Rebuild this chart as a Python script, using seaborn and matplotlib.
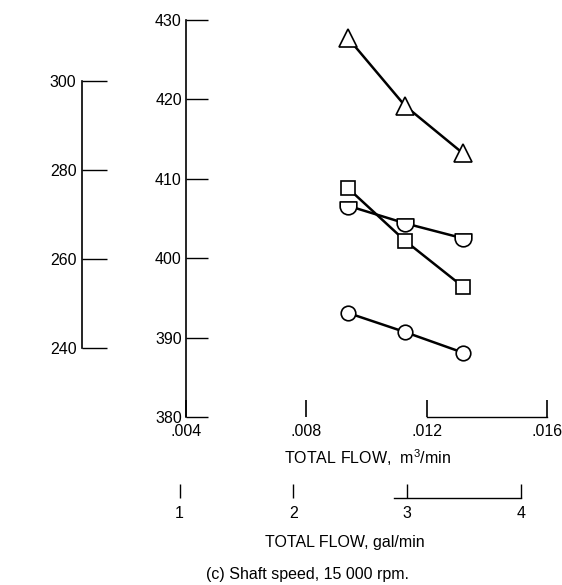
import matplotlib
matplotlib.use("Agg")
import matplotlib.pyplot as plt
import numpy as np
import pandas as pd
import seaborn as sns
from matplotlib.path import Path

# ---- data ----
flow_m3 = [0.00939, 0.01128, 0.01321]
triangle_vals = [427.7, 419.2, 413.2]
square_vals = [408.8, 402.2, 396.4]
halfcircle_vals = [406.6, 404.4, 402.5]
circle_vals = [393.1, 390.7, 388.1]

main_yticks = [380, 390, 400, 410, 420, 430]
left_yticks = [240, 260, 280, 300]
m3_ticks = [0.004, 0.008, 0.012, 0.016]
m3_labels = [".004", ".008", ".012", ".016"]
gal_ticks = [1, 2, 3, 4]
gal_labels = ["1", "2", "3", "4"]

GAL_M3 = 0.0037854

sns.set_style("ticks")
plt.rcParams['font.family'] = ['Liberation Sans', 'DejaVu Sans']
plt.rcParams['mathtext.fontset'] = 'custom'
plt.rcParams['mathtext.rm'] = 'Liberation Sans'
plt.rcParams['text.color'] = 'black'
plt.rcParams['xtick.color'] = 'black'
plt.rcParams['ytick.color'] = 'black'
plt.rcParams['xtick.labelcolor'] = 'black'
plt.rcParams['ytick.labelcolor'] = 'black'
plt.rcParams['axes.edgecolor'] = 'black'

FS = 11.5
W, H = 562, 585
fig = plt.figure(figsize=(W / 100, H / 100), dpi=100)

# main axes: x 0.004..0.016 -> px 186..547 ; y 380..430 -> px 417..20
X0, X1 = 186, 547
XMIN, XMAX = 0.004, 0.016
PXU = (X1 - X0) / (XMAX - XMIN)
ax = fig.add_axes([X0 / W, 1 - 417 / H, (X1 - X0) / W, 397 / H])
ax.patch.set_alpha(0)

# half-circle marker (flat top, round bottom)
arc = Path.arc(180, 360)
verts = list(arc.vertices) + [(1.0, 0.55), (-1.0, 0.55), (-1.0, 0.0)]
codes = list(arc.codes) + [Path.LINETO, Path.LINETO, Path.CLOSEPOLY]
half_marker = Path(verts, codes)

series = [
    (triangle_vals, "^", 12.5),
    (square_vals, "s", 10),
    (halfcircle_vals, half_marker, 12),
    (circle_vals, "o", 10.5),
]
for vals, mk, ms in series:
    df = pd.DataFrame({"flow": flow_m3, "val": vals})
    sns.lineplot(data=df, x="flow", y="val", ax=ax, color="black", lw=1.8,
                 marker=mk, markersize=ms, markerfacecolor="white",
                 markeredgecolor="black", markeredgewidth=1.2, zorder=3)

ax.set_xlim(XMIN, XMAX)
ax.set_ylim(380, 430)
for s in ["top", "right"]:
    ax.spines[s].set_visible(False)
ax.spines["left"].set_linewidth(1.2)
ax.spines["bottom"].set_linewidth(1.0)
ax.spines["bottom"].set_bounds(0.012, 0.016)
ax.set_yticks(main_yticks)
ax.set_yticklabels([str(t) for t in main_yticks])
ax.tick_params(axis="y", direction="in", length=16, width=1.0, pad=3,
               labelsize=FS)
ax.set_xticks(m3_ticks)
ax.set_xticklabels(m3_labels)
ax.tick_params(axis="x", direction="in", length=12, width=1.2, pad=5,
               labelsize=FS)
ax.set_xlabel("")
ax.set_ylabel("")
fig.text(367 / W, 1 - 458 / H, "TOTAL FLOW,  m$^3$/min", ha="center",
         va="center", fontsize=FS)

# gal/min scale as its own axes, aligned with the m3/min scale
G0, G1 = 0.9, 4.3
gx0 = X0 + (G0 * GAL_M3 - XMIN) * PXU
gx1 = X0 + (G1 * GAL_M3 - XMIN) * PXU
axg = fig.add_axes([gx0 / W, 1 - 498 / H, (gx1 - gx0) / W, 0.02])
axg.patch.set_alpha(0)
axg.set_xlim(G0, G1)
axg.set_ylim(0, 1)
for s in ["top", "right", "left"]:
    axg.spines[s].set_visible(False)
axg.spines["bottom"].set_linewidth(1.0)
axg.spines["bottom"].set_bounds(2.88, 4)
axg.set_yticks([])
axg.set_xticks(gal_ticks)
axg.set_xticklabels(gal_labels)
axg.tick_params(axis="x", direction="in", length=10, width=1.0, pad=6,
                labelsize=FS)
fig.text(345 / W, 1 - 543 / H, "TOTAL FLOW, gal/min", ha="center",
         va="center", fontsize=FS)

# separate left scale 240..300
ax2 = fig.add_axes([82 / W, 1 - 348 / H, 0.05, 267 / H])
ax2.patch.set_alpha(0)
ax2.set_ylim(240, 300)
for s in ["top", "right", "bottom"]:
    ax2.spines[s].set_visible(False)
ax2.spines["left"].set_linewidth(1.2)
ax2.set_xticks([])
ax2.set_yticks(left_yticks)
ax2.set_yticklabels([str(t) for t in left_yticks])
ax2.tick_params(axis="y", direction="in", length=18, width=1.0, pad=4,
                labelsize=FS)

fig.text(308 / W, 1 - 575 / H, "(c) Shaft speed, 15 000 rpm.",
         ha="center", va="center", fontsize=FS)

fig.savefig("out.png", dpi=100)
